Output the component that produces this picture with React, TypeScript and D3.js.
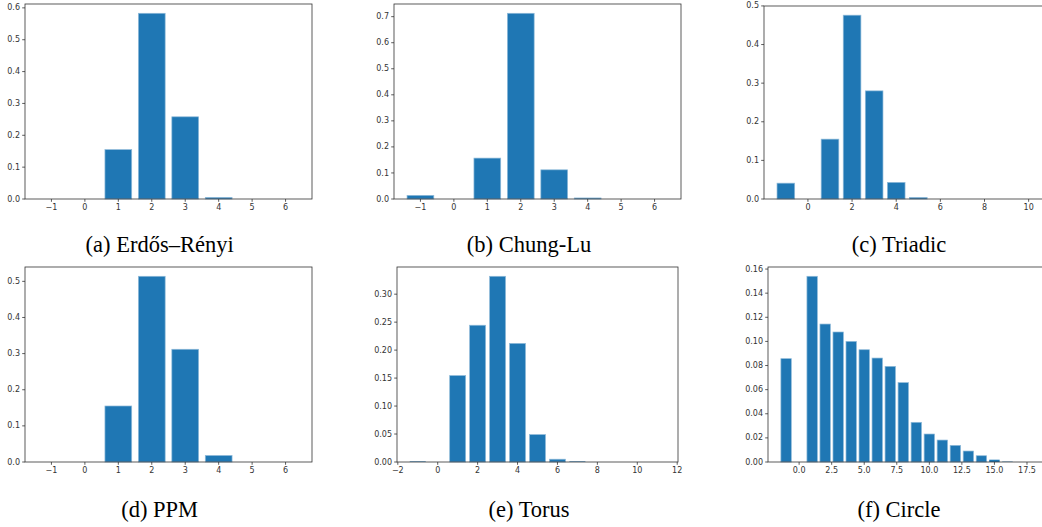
import * as d3 from "d3";

// degree offsets (x) for each panel
const xSmall = [-1, 0, 1, 2, 3, 4, 5, 6];
const xTriadic = d3.range(-1, 11);
const xTorus = d3.range(-1, 12);
const xCircle = d3.range(-1, 19);

// bar heights
const erdosValues = [0, 0, 0.155, 0.583, 0.258, 0.005, 0, 0];
const chungLuValues = [0.014, 0, 0.157, 0.713, 0.112, 0.004, 0, 0];
const triadicValues = [0.041, 0, 0.155, 0.476, 0.28, 0.043, 0.004, 0, 0, 0, 0, 0];
const ppmValues = [0, 0, 0.155, 0.514, 0.312, 0.018, 0, 0];
const torusValues = [0.001, 0, 0.1545, 0.2445, 0.332, 0.212, 0.049, 0.005, 0.001, 0, 0, 0, 0];
const circleValues = [
  0.0857, 0, 0.154, 0.1144, 0.1078, 0.1, 0.0931, 0.0862, 0.0793, 0.0658,
  0.0329, 0.0232, 0.0182, 0.0138, 0.0091, 0.0052, 0.0019, 0.0003, 0, 0,
];

// tick labels
const xTicksSmall = [-1, 0, 1, 2, 3, 4, 5, 6];
const xTicksTriadic = [0, 2, 4, 6, 8, 10];
const xTicksTorus = [-2, 0, 2, 4, 6, 8, 10, 12];
const xTicksCircle = [0, 2.5, 5, 7.5, 10, 12.5, 15, 17.5];
const yTicksErdos = [0, 0.1, 0.2, 0.3, 0.4, 0.5, 0.6];
const yTicksChungLu = [0, 0.1, 0.2, 0.3, 0.4, 0.5, 0.6, 0.7];
const yTicksHalf = [0, 0.1, 0.2, 0.3, 0.4, 0.5];
const yTicksTorus = [0, 0.05, 0.1, 0.15, 0.2, 0.25, 0.3];
const yTicksCircle = [0, 0.02, 0.04, 0.06, 0.08, 0.1, 0.12, 0.14, 0.16];

const captions = ["(a) Erdős–Rényi", "(b) Chung-Lu", "(c) Triadic", "(d) PPM", "(e) Torus", "(f) Circle"];

const barColor = "#1f77b4";
const tickFont = "'DejaVu Sans', sans-serif";
const captionFont = "'Liberation Serif', 'Times New Roman', 'DejaVu Serif', serif";

type PanelProps = {
  left: number;
  top: number;
  width: number;
  height: number;
  xs: number[];
  ys: number[];
  xTicks: number[];
  yTicks: number[];
  xFmt: (v: number) => string;
  yFmt: (v: number) => string;
};

const minus = (s: string) => s.replace("-", "\u2212");

function Panel(p: PanelProps) {
  const lo = d3.min(p.xs)! - 0.4;
  const hi = d3.max(p.xs)! + 0.4;
  const pad = (hi - lo) * 0.05;
  const x = d3.scaleLinear().domain([lo - pad, hi + pad]).range([0, p.width]);
  const y = d3
    .scaleLinear()
    .domain([0, d3.max(p.ys)! * 1.05])
    .range([p.height, 0]);
  const bw = x(0.8) - x(0);

  return (
    <g transform={`translate(${p.left},${p.top})`}>
      {p.xs.map((v, i) => (
        <rect
          key={i}
          x={x(v - 0.4)}
          y={y(p.ys[i])}
          width={bw}
          height={p.height - y(p.ys[i])}
          fill={barColor}
          stroke={p.ys[i] > 0.003 ? "#8fbad9" : "none"}
          strokeWidth={0.7}
        />
      ))}
      <rect x={0} y={0} width={p.width} height={p.height} fill="none" stroke="#333" strokeWidth={0.8} />
      {p.xTicks.map((t) => (
        <g key={"x" + t} transform={`translate(${x(t)},${p.height})`}>
          <line y2={2.8} stroke="#333" strokeWidth={0.8} />
          <text y={10.5} textAnchor="middle" fontSize={8} fontFamily={tickFont} fill="#333">
            {minus(p.xFmt(t))}
          </text>
        </g>
      ))}
      {p.yTicks.map((t) => (
        <g key={"y" + t} transform={`translate(0,${y(t)})`}>
          <line x2={-2.8} stroke="#333" strokeWidth={0.8} />
          <text x={-5} dy="0.32em" textAnchor="end" fontSize={8} fontFamily={tickFont} fill="#333">
            {p.yFmt(t)}
          </text>
        </g>
      ))}
    </g>
  );
}

export default function App() {
  const f0 = d3.format("d");
  const f1 = d3.format(".1f");
  const f2 = d3.format(".2f");
  const captionX = [159.6, 529, 899];
  const captionY = [252, 517];

  return (
    <svg
      width={1042}
      height={527}
      style={{ position: "absolute", left: 0, top: 0, background: "#fff" }}
    >
      <Panel left={25} top={4} width={287} height={195} xs={xSmall} ys={erdosValues}
        xTicks={xTicksSmall} yTicks={yTicksErdos} xFmt={f0} yFmt={f1} />
      <Panel left={394} top={4} width={287} height={195} xs={xSmall} ys={chungLuValues}
        xTicks={xTicksSmall} yTicks={yTicksChungLu} xFmt={f0} yFmt={f1} />
      <Panel left={764} top={6} width={286.5} height={193} xs={xTriadic} ys={triadicValues}
        xTicks={xTicksTriadic} yTicks={yTicksHalf} xFmt={f0} yFmt={f1} />
      <Panel left={25} top={267} width={287} height={195} xs={xSmall} ys={ppmValues}
        xTicks={xTicksSmall} yTicks={yTicksHalf} xFmt={f0} yFmt={f1} />
      <Panel left={397} top={267} width={281} height={195} xs={xTorus} ys={torusValues}
        xTicks={xTicksTorus} yTicks={yTicksTorus} xFmt={f0} yFmt={f2} />
      <Panel left={768} top={267} width={283.6} height={195} xs={xCircle} ys={circleValues}
        xTicks={xTicksCircle} yTicks={yTicksCircle} xFmt={f1} yFmt={f2} />
      {captions.map((c, i) => (
        <text
          key={c}
          x={captionX[i % 3]}
          y={captionY[Math.floor(i / 3)]}
          textAnchor="middle"
          fontSize={22.5}
          fontFamily={captionFont}
          fill="#000"
        >
          {c}
        </text>
      ))}
    </svg>
  );
}
